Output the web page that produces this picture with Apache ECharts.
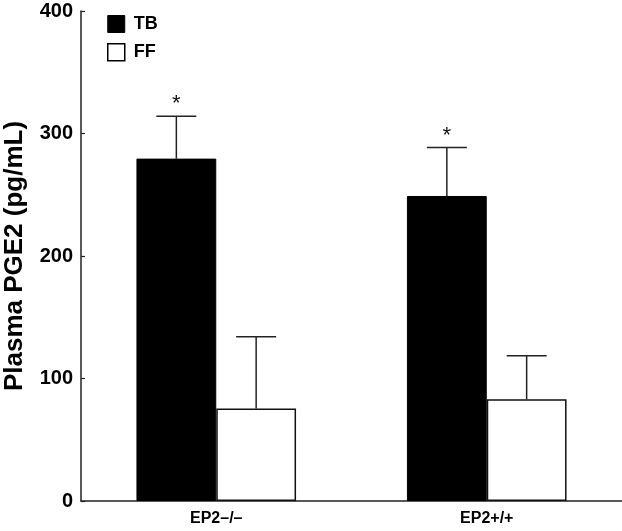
<!DOCTYPE html>
<html>
<head>
<meta charset="utf-8">
<script src="https://cdn.jsdelivr.net/npm/echarts@6/dist/echarts.min.js"></script>
<style>
html,body{margin:0;padding:0;background:#fff;}
#main{width:622px;height:531px;}
</style>
</head>
<body>
<div id="main"></div>
<script>
// data
var categories = ['EP2\u2013/\u2013', 'EP2+/+'];
var tbValues = [279.5, 249];
var ffValues = [75.5, 83];
var tbErrTop = [314, 288.5];
var ffErrTop = [134, 118.5];
var tbStars = ['*', '*'];
var ffStars = ['', ''];
var yTicks = [0, 100, 200, 300, 400];

var FONT = '"Liberation Sans", Arial, sans-serif';
var GAP = 0.41;

var myChart = echarts.init(document.getElementById('main'));

function errData(vals, tops, stars) {
  return vals.map(function (v, i) { return [i, v, tops[i], stars[i]]; });
}

function errRender(side) {
  return function (params, api) {
    var band = api.size([1, 0])[0];
    var barW = band * (1 - GAP) / 2;
    var base = api.coord([api.value(0), api.value(1)]);
    var top = api.coord([api.value(0), api.value(2)]);
    var x = base[0] + side * barW / 2;
    var cap = 20;
    var children = [
      {type: 'line', shape: {x1: x, y1: base[1], x2: x, y2: top[1]},
       style: {stroke: '#222', lineWidth: 1.5}},
      {type: 'line', shape: {x1: x - cap, y1: top[1], x2: x + cap, y2: top[1]},
       style: {stroke: '#222', lineWidth: 1.5}}
    ];
    var star = api.value(3);
    if (star) {
      children.push({type: 'text', x: x, y: top[1] - 1,
        style: {text: star, fill: '#111', font: '22px ' + FONT, align: 'center', verticalAlign: 'bottom'}});
    }
    return {type: 'group', children: children};
  };
}

option = {
  animation: false,
  backgroundColor: '#fff',
  grid: {left: 81, right: 0, top: 11, bottom: 30, outerBoundsMode: 'none', containLabel: false},
  legend: {
    orient: 'vertical', left: 107, top: 15, padding: 0,
    itemWidth: 17, itemHeight: 17, itemGap: 10,
    textStyle: {fontFamily: FONT, fontWeight: 'bold', fontSize: 18, color: '#000', padding: [0, 0, 0, 4]},
    data: [
      {name: 'TB', icon: 'rect', itemStyle: {color: '#000', borderColor: '#000', borderWidth: 1}},
      {name: 'FF', icon: 'rect', itemStyle: {color: '#fff', borderColor: '#000', borderWidth: 1.5}}
    ]
  },
  xAxis: {
    type: 'category',
    data: categories,
    axisLine: {lineStyle: {color: '#222', width: 1.5}},
    axisTick: {show: false},
    axisLabel: {fontFamily: FONT, fontWeight: 'bold', fontSize: 16, color: '#000', margin: 10}
  },
  yAxis: {
    type: 'value',
    min: yTicks[0], max: yTicks[yTicks.length - 1], interval: 100,
    name: 'Plasma PGE2 (pg/mL)',
    nameLocation: 'middle',
    nameGap: 53,
    nameTextStyle: {fontFamily: FONT, fontWeight: 'bold', fontSize: 26, color: '#000'},
    axisLine: {show: true, lineStyle: {color: '#222', width: 1.5}},
    axisTick: {show: true, inside: true, length: 4, lineStyle: {color: '#222', width: 1.2}},
    splitLine: {show: false},
    axisLabel: {fontFamily: FONT, fontWeight: 'bold', fontSize: 20, color: '#000', margin: 8}
  },
  series: [
    {name: 'TB', type: 'bar', data: tbValues, barGap: 0, barCategoryGap: (GAP * 100) + '%',
     itemStyle: {color: '#000', borderColor: '#000', borderWidth: 1}},
    {name: 'FF', type: 'bar', data: ffValues,
     itemStyle: {color: '#fff', borderColor: '#111', borderWidth: 1.5}},
    {name: 'TB err', type: 'custom', renderItem: errRender(-1), data: errData(tbValues, tbErrTop, tbStars), z: 5},
    {name: 'FF err', type: 'custom', renderItem: errRender(1), data: errData(ffValues, ffErrTop, ffStars), z: 5}
  ]
};

myChart.setOption(option);
</script>
</body>
</html>
